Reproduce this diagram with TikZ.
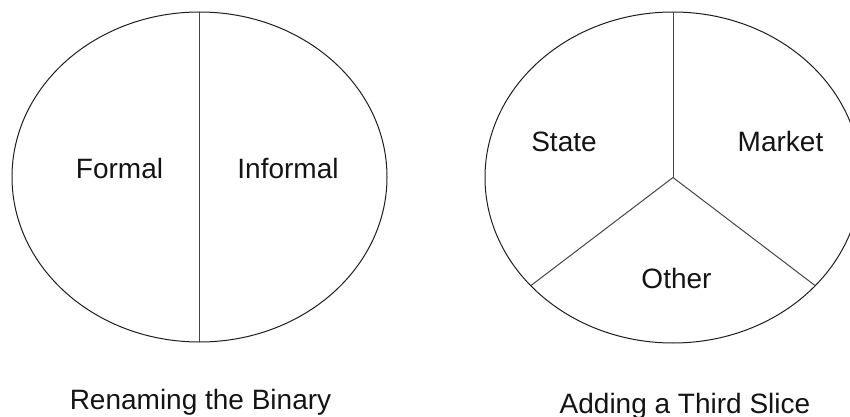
\documentclass[tikz,border=0pt]{standalone}
\usepackage{fontspec}
\setmainfont{Liberation Sans}

\tikzset{every picture/.style={line width=0.75pt}}
\tikzset{
  rim/.style={color={rgb, 255:red, 30; green, 30; blue, 30}},
  slice/.style={color={rgb, 255:red, 70; green, 70; blue, 70}},
  lbl/.style={anchor=base, inner sep=0.75pt, text={rgb, 255:red, 20; green, 20; blue, 20}, font=\fontsize{21}{25}\selectfont},
}

\begin{document}
\begin{tikzpicture}[x=0.75pt,y=0.75pt,yscale=-1,xscale=1]
\useasboundingbox (0,0) rectangle (850,417);
\clip (0,0) rectangle (850,417);

%Shape: Ellipse [left pie]
\coordinate (lc) at (199.5,177);
\coordinate (ltop) at (199.5,12);
\coordinate (lbot) at (199.5,342);
\draw [rim] (lc) ellipse [x radius=187.5, y radius=165];
\draw [slice] (ltop) -- (lbot);

%Shape: Ellipse [right pie]
\coordinate (rc) at (673,177.5);
\coordinate (rtop) at (673,12);
\coordinate (rleft) at (531,285.5);
\coordinate (rright) at (815,285.5);
\draw [rim] (rc) ellipse [x radius=188, y radius=165.5];
\draw [slice] (rc) -- (rtop);
\draw [slice] (rc) -- (rleft);
\draw [slice] (rc) -- (rright);

% Text Node
\node [lbl] (formal) at (119.5,179) {Formal};
% Text Node
\node [lbl] (informal) at (288,179) {Informal};
% Text Node
\node [lbl] (state) at (564,152) {State};
% Text Node
\node [lbl] (market) at (780.5,152) {Market};
% Text Node
\node [lbl] (other) at (676.5,288.5) {Other};
% Text Node
\node [lbl] (bincap) at (200.5,409) {Renaming the Binary};
% Text Node
\node [lbl] (slicecap) at (685,413) {Adding a Third Slice};
\end{tikzpicture}
\end{document}
